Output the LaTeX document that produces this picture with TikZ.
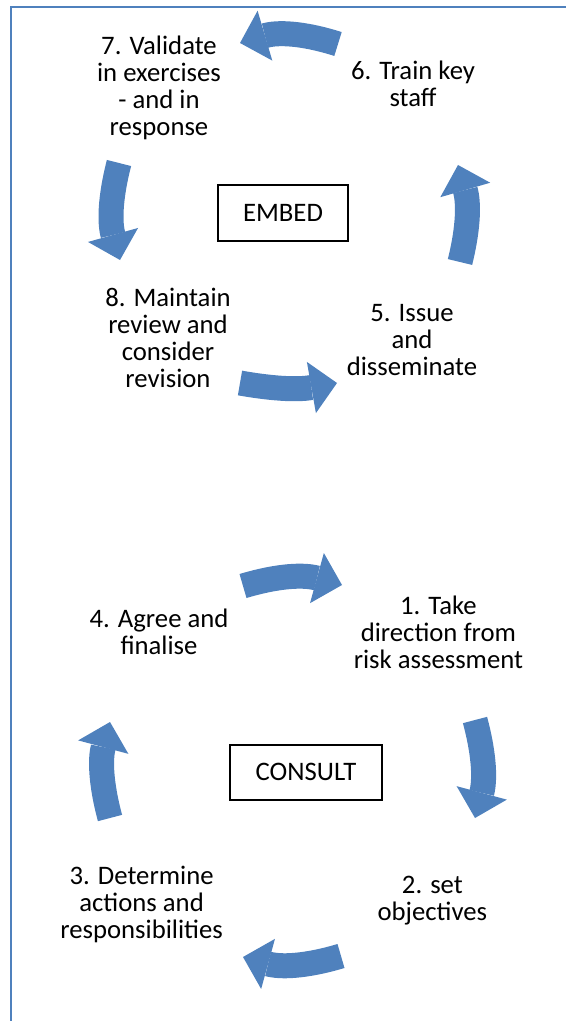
\documentclass[tikz,border=0pt]{standalone}
\usepackage{fontspec}
\setmainfont{Carlito}
\usetikzlibrary{arrows.meta}
\definecolor{cycblue}{RGB}{79,129,189}
\tikzset{stage/.style={align=center,inner sep=0pt,font=\fontsize{19}{19.2}\selectfont},
  box/.style={draw,line width=1pt,minimum width=3.25cm,minimum height=1.4cm,font=\fontsize{19}{19.2}\selectfont},
  bigarr/.style={cycblue,line width=0.625cm,-{Triangle[length=6.5mm,width=13mm,line width=0pt]}},
  rim/.style={cycblue,line width=0.05cm}}

\begin{document}
\begin{tikzpicture}
\useasboundingbox (0,0) rectangle (14.15,-25.525);
\draw[rim] (0.275,-25.525) |- (14.15,-0.175);
% embed cycle
\node[stage] (n7) at (3.975,-2.2){7. Validate\\in exercises\\- and in\\response};
\node[stage] (n6) at (10.325,-2.1){6. Train key\\staff};
\node[box] (embed) at (7.075,-5.325){EMBED};
\node[stage] (n8) at (4.2,-8.45){8. Maintain\\review and\\consider\\revision};
\node[stage] (n5) at (10.3,-8.5){5. Issue\\and\\disseminate};
\coordinate (t67) at (8.45,-1.1); \coordinate (h67) at (6.0,-1.075);
\coordinate (t78) at (2.975,-4.075); \coordinate (h78) at (3.0,-6.5);
\coordinate (t85) at (6.0,-9.575); \coordinate (h85) at (8.425,-9.575);
\coordinate (t56) at (11.5,-6.55); \coordinate (h56) at (11.45,-4.125);
\draw[bigarr] (t67) to[bend right=17] (h67);
\draw[bigarr] (t78) to[bend right=15] (h78);
\draw[bigarr] (t85) to[bend right=10] (h85);
\draw[bigarr] (t56) to[bend right=15] (h56);
% consult cycle
\node[stage] (n4) at (3.975,-15.8){4. Agree and\\finalise};
\node[stage] (n1) at (10.96,-15.8){1. Take\\direction from\\risk assessment};
\node[box,minimum width=3.8cm,minimum height=1.375cm] (consult) at (7.65,-19.31){CONSULT};
\node[stage] (n3) at (3.54,-22.6){3. Determine\\actions and\\responsibilities};
\node[stage] (n2) at (10.81,-22.525){2. set\\objectives};
\coordinate (t41) at (6.075,-14.65); \coordinate (h41) at (8.55,-14.625);
\coordinate (t12) at (11.875,-18.0); \coordinate (h12) at (11.875,-20.45);
\coordinate (t23) at (8.525,-23.9); \coordinate (h23) at (6.075,-23.925);
\coordinate (t34) at (2.75,-20.45); \coordinate (h34) at (2.75,-18.05);
\draw[bigarr] (t41) to[bend left=16] (h41);
\draw[bigarr] (t12) to[bend left=15] (h12);
\draw[bigarr] (t23) to[bend left=16] (h23);
\draw[bigarr] (t34) to[bend left=15] (h34);
\end{tikzpicture}
\end{document}
